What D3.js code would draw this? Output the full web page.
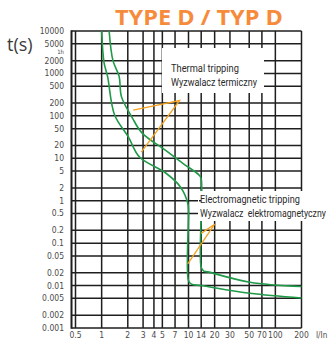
<!DOCTYPE html>
<html>
<head>
<meta charset="utf-8">
<script src="https://cdn.jsdelivr.net/npm/d3@7"></script>
<style>
  body { margin: 0; background: #fff; }
</style>
</head>
<body>
<script>
// multiples of rated current (x) and tripping time in seconds (y)
const currentTicks = [0.5, 1, 2, 3, 4, 5, 7, 10, 14, 20, 30, 50, 70, 100, 200];
const timeTicks = [10000, 5000, 2000, 1000, 500, 200, 100, 50, 20, 10, 5, 2, 1,
  0.5, 0.2, 0.1, 0.05, 0.02, 0.01, 0.005, 0.002, 0.001];

// lower limit curve (no tripping) - [I/In, t]
const curveLow = [[1.0, 10000], [1.066, 1800], [1.17, 850], [1.41, 105], [2.03, 32],
  [2.73, 10.7], [5.46, 4.5], [8.04, 2.14], [9.8, 0.885], [10, 0.6], [10, 0.013],
  [10.8, 0.0108], [14, 0.01], [51, 0.0066], [200, 0.0051]];
// upper limit curve (tripping)
const curveHigh = [[1.22, 10000], [1.35, 2000], [1.59, 850], [1.69, 284], [2.24, 92],
  [2.91, 39.8], [5.46, 15.3], [8.53, 7.7], [13.3, 4.0], [14, 3.3], [14, 0.027],
  [15, 0.022], [16.7, 0.021], [51, 0.012], [200, 0.0095]];

// annotation pointers: tip, apex, tip
const thermalPointer = [[2.31, 137], [7.9, 230], [2.86, 14]];
const magneticPointer = [[14, 0.17], [20, 0.28], [9.8, 0.0325]];

const width = 331;
const height = 342;

const svg = d3.select("body").append("svg")
  .attr("width", width)
  .attr("height", height);

const x = d3.scaleLog().domain([0.5, 200]).range([75.5, 301.5]);
const y = d3.scaleLog().domain([0.001, 10000]).range([328, 31]);

const gridColor = "#1e1e1e";
const frameLeft = x(0.5) - 4;

// grid
svg.append("g")
  .selectAll("line.v")
  .data(currentTicks)
  .join("line")
  .attr("class", "v")
  .attr("x1", (d) => x(d)).attr("x2", (d) => x(d))
  .attr("y1", y(10000)).attr("y2", y(0.001))
  .attr("stroke", gridColor)
  .attr("stroke-width", 1.5);

svg.append("g")
  .selectAll("line.h")
  .data(timeTicks)
  .join("line")
  .attr("class", "h")
  .attr("x1", frameLeft).attr("x2", x(200))
  .attr("y1", (d) => y(d)).attr("y2", (d) => y(d))
  .attr("stroke", gridColor)
  .attr("stroke-width", 1.5);

// left frame line
svg.append("line")
  .attr("x1", frameLeft).attr("x2", frameLeft)
  .attr("y1", y(10000) - 0.75).attr("y2", y(0.001) + 0.75)
  .attr("stroke", gridColor)
  .attr("stroke-width", 2);

const tickFont = "'DejaVu Sans Condensed', 'DejaVu Sans', sans-serif";

// y labels
svg.append("g")
  .selectAll("text")
  .data(timeTicks)
  .join("text")
  .attr("x", 64)
  .attr("y", (d) => y(d))
  .attr("dy", "0.35em")
  .attr("text-anchor", "end")
  .attr("font-family", tickFont)
  .attr("font-stretch", "condensed")
  .attr("font-size", "8.5px")
  .attr("fill", "#4a4a4a")
  .text((d) => d);

// "1h" marker squeezed between 5000 and 2000 like in the original
svg.append("text")
  .attr("x", 64)
  .attr("y", (y(5000) + y(2000)) / 2)
  .attr("dy", "0.35em")
  .attr("text-anchor", "end")
  .attr("font-family", tickFont)
  .attr("font-size", "6px")
  .attr("fill", "#4a4a4a")
  .text("1h");

// x labels
svg.append("g")
  .selectAll("text")
  .data(currentTicks)
  .join("text")
  .attr("x", (d) => x(d))
  .attr("y", 338)
  .attr("text-anchor", "middle")
  .attr("font-family", tickFont)
  .attr("font-stretch", "condensed")
  .attr("font-size", "8.5px")
  .attr("fill", "#4a4a4a")
  .text((d) => d);

svg.append("text")
  .attr("x", 316)
  .attr("y", 338)
  .attr("font-family", tickFont)
  .attr("font-size", "8px")
  .attr("fill", "#4a4a4a")
  .text("I/In");

svg.append("text")
  .attr("x", 7)
  .attr("y", 51)
  .attr("font-family", "'Open Sans', sans-serif")
  .attr("font-size", "18px")
  .attr("fill", "#3a3a3a")
  .text("t(s)");

svg.append("text")
  .attr("x", 115)
  .attr("y", 25)
  .attr("font-family", "'Open Sans', sans-serif")
  .attr("font-weight", "bold")
  .attr("font-size", "21px")
  .attr("textLength", 168)
  .attr("lengthAdjust", "spacingAndGlyphs")
  .attr("fill", "#f68b3c")
  .text("TYPE D / TYP D");

// curves
const line = d3.line()
  .x((d) => x(d[0]))
  .y((d) => y(d[1]))
  .curve(d3.curveCatmullRom.alpha(0.5));

svg.selectAll("path.curve")
  .data([curveLow, curveHigh])
  .join("path")
  .attr("class", "curve")
  .attr("d", line)
  .attr("fill", "none")
  .attr("stroke", "#1f9a48")
  .attr("stroke-width", 1.6);

// label boxes (cover the grid)
const boxes = [
  { x: 162, y: 48, w: 102, h: 45, lines: ["Thermal tripping", "Wyzwalacz termiczny"], len: [68, 86], size: 11 },
  { x: 198, y: 191, w: 133, h: 30, lines: ["Electromagnetic tripping", "Wyzwalacz  elektromagnetyczny"], len: [100, 126], size: 10.5 },
];

const labelGroup = svg.selectAll("g.label")
  .data(boxes)
  .join("g")
  .attr("class", "label");

labelGroup.append("rect")
  .attr("x", (d) => d.x).attr("y", (d) => d.y)
  .attr("width", (d) => d.w).attr("height", (d) => d.h)
  .attr("fill", "#fff");

// squeeze each text line horizontally to the narrow width of the original
labelGroup.each(function (d, i) {
  const g = d3.select(this);
  const top = i === 0 ? d.y + 23.5 : d.y + 11.5;
  d.lines.forEach((t, k) => {
    const tx = g.append("text")
      .attr("font-family", "'Liberation Sans Narrow', 'Roboto', sans-serif")
      .attr("font-size", d.size + "px")
      .attr("fill", "#2a2a2a")
      .style("white-space", "pre")
      .text(t);
    const natural = tx.node().getComputedTextLength();
    const sx = d.len[k] / natural;
    tx.attr("transform", `translate(${d.x + (i === 0 ? 9 : 2)},${top + k * 14.5}) scale(${sx},1)`);
  });
});

// dash joining the 1 s line to the electromagnetic label
svg.append("line")
  .attr("x1", x(14)).attr("x2", 199)
  .attr("y1", y(1)).attr("y2", y(1))
  .attr("stroke", gridColor)
  .attr("stroke-width", 1.5);

// pointers
const pointerLine = d3.line()
  .x((d) => x(d[0]))
  .y((d) => y(d[1]));

svg.selectAll("path.pointer")
  .data([thermalPointer, magneticPointer])
  .join("path")
  .attr("class", "pointer")
  .attr("d", pointerLine)
  .attr("fill", "none")
  .attr("stroke", "#f4a21f")
  .attr("stroke-width", 1.3);
</script>
</body>
</html>
